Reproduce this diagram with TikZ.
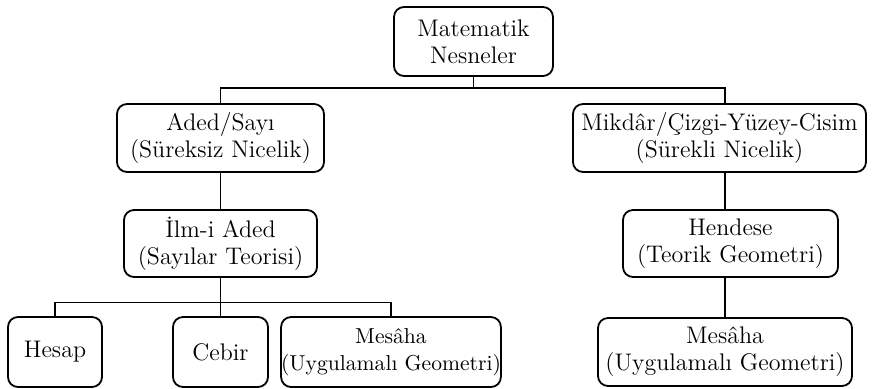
\documentclass[tikz,border=0pt]{standalone}
\usepackage{tikz}
\usetikzlibrary{positioning, calc}

\begin{document}
\begin{tikzpicture}[
    x=0.5pt, y=-0.5pt,
    box/.style={rectangle, rounded corners=5pt, draw=black, line width=0.9pt, align=center, inner sep=0pt, font=\fontsize{12}{13.6}\selectfont},
    link/.style={line width=0.6pt}
]

% frame
\useasboundingbox (0,0) rectangle (872,388);

% ===== BOXES =====
% Top
\node[box, minimum width=79.5pt, minimum height=34.5pt] (mat) at (473.5, 41.5) {Matematik\\Nesneler};

% Second row
\node[box, minimum width=103.5pt, minimum height=34pt] (aded) at (220.5, 138) {Aded/Sayı\\(Süreksiz Nicelik)};
\node[box, minimum width=146.5pt, minimum height=34pt] (mikdar) at (719.5, 138) {Mikdâr/Çizgi-Yüzey-Cisim\\(Sürekli Nicelik)};

% Third row
\node[box, minimum width=96.5pt, minimum height=33.5pt] (ilm) at (220.5, 243.5) {İlm-i Aded\\(Sayılar Teorisi)};
\node[box, minimum width=107.5pt, minimum height=33.5pt] (hendese) at (730.5, 243.5) {Hendese\\(Teorik Geometri)};

% Bottom row
\node[box, minimum width=47pt, minimum height=35pt] (hesap) at (55, 352) {Hesap};
\node[box, minimum width=47.5pt, minimum height=35pt] (cebir) at (220.5, 352) {Cebir};
\node[box, minimum width=108pt, minimum height=35pt, font=\fontsize{10.8}{13.6}\selectfont] (mesahaA) at (391, 352) {Mesâha\\(Uygulamalı Geometri)};
\node[box, minimum width=127pt, minimum height=34pt] (mesahaB) at (725, 352) {Mesâha\\(Uygulamalı Geometri)};

% ===== CONNECTIONS =====
\draw[link] (mat.south) -- ++(0,11) -| (aded.north);
\draw[link] (mat.south) -- ++(0,11) -| (mikdar.north -| mesahaB.north);
\draw[link] (aded.south) -- (ilm.north);
\draw[link] (mikdar.south -| mesahaB.north) -- (hendese.north -| mesahaB.north);
\draw[link] (ilm.south) -- (cebir.north);
\draw[link] (hesap.north) -- ++(0,-14) -| (mesahaA.north);
\draw[link] (hendese.south -| mesahaB.north) -- (mesahaB.north);

\end{tikzpicture}
\end{document}
